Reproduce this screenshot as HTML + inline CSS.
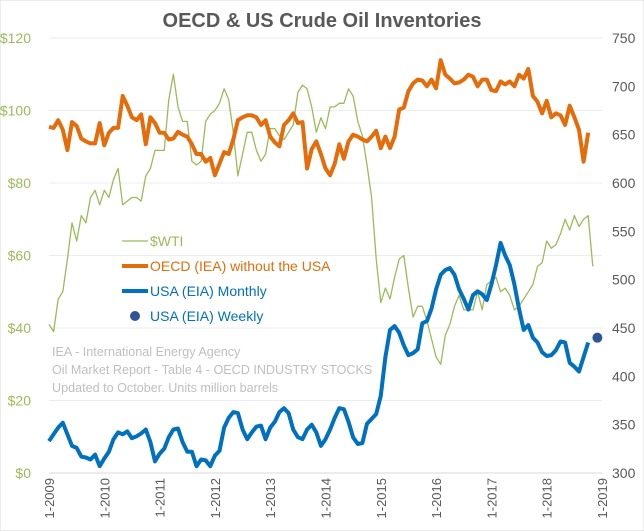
<!DOCTYPE html>
<html><head><meta charset="utf-8"><style>
body{margin:0;background:#fff;}
svg{display:block;font-family:"Liberation Sans",sans-serif;}
</style></head><body>
<svg id="c" width="644" height="531">
<rect x="0" y="0" width="644" height="531" fill="#fff" stroke="#d9d9d9"/>
<text x="322" y="27" text-anchor="middle" font-size="20" font-weight="bold" fill="#595959">OECD &amp; US Crude Oil Inventories</text>
<g id="grid"></g><g id="axes"></g><g id="series"></g>
<g>
<line x1="122" y1="241" x2="148" y2="241" stroke="#9bbb59" stroke-width="1.3"/>
<text x="150" y="246" font-size="14" fill="#9bbb59">$WTI</text>
<line x1="122" y1="266" x2="148" y2="266" stroke="#e46c0a" stroke-width="4"/>
<text x="150" y="271" font-size="14" fill="#e46c0a">OECD (IEA) without the USA</text>
<line x1="122" y1="291" x2="148" y2="291" stroke="#0070c0" stroke-width="4"/>
<text x="150" y="296" font-size="14" fill="#0070c0">USA (EIA) Monthly</text>
<circle cx="135" cy="316" r="5" fill="#2f5597"/>
<text x="150" y="321" font-size="14" fill="#0070c0">USA (EIA) Weekly</text>
</g>
<g font-size="12.6" fill="#bfbfbf">
<text x="52" y="356">IEA - International Energy Agency</text>
<text x="52" y="374">Oil Market Report - Table 4 - OECD INDUSTRY STOCKS</text>
<text x="52" y="392">Updated to October. Units million barrels</text>
</g>
</svg>
<script>
const leftTicks=["$0","$20","$40","$60","$80","$100","$120"];
const leftTickValues=[0,20,40,60,80,100,120];
const rightTickValues=[300,350,400,450,500,550,600,650,700,750];
const xTickLabels=["1-2009","1-2010","1-2011","1-2012","1-2013","1-2014","1-2015","1-2016","1-2017","1-2018","1-2019"];
const wti=[41,39,48,50,59,69,64,71,69,76,78,74,
78,76,81,84,74,75,76,76,75,82,84,89,
89,89,103,110,101,97,97,86,85,86,97,99,
100,102,106,103,94,82,88,94,94,89,86,88,
95,95,93,92,94,96,105,107,106,101,94,98,
95,101,101,102,102,106,104,97,93,85,76,59,
47,51,48,54,59,60,51,43,46,46,42,37,
32,30,38,41,46,49,45,45,45,50,45,52,
53,54,50,51,49,45,46,48,50,52,57,58,
64,62,63,66,70,67,71,68,70,71,57];
const oecd=[658,657,665,655,634,663,659,646,643,641,641,662,
639,652,657,657,690,680,668,665,671,640,668,662,
652,652,645,646,653,650,648,640,630,630,622,626,
608,620,632,630,645,665,668,670,670,668,660,665,
648,642,638,660,665,672,662,663,615,635,643,630,
615,608,620,640,625,643,650,648,645,643,648,654,
636,648,636,648,676,678,695,703,707,706,700,707,
698,727,712,708,703,704,707,712,710,700,707,707,
696,695,705,702,705,700,712,708,718,690,684,672,
685,668,672,670,660,680,668,655,622,652];
const usa=[333,340,347,352,340,328,326,317,316,314,319,307,
315,322,335,342,340,343,336,338,341,345,332,312,
320,325,337,345,346,332,322,322,307,314,313,307,
318,323,347,357,363,362,345,335,342,348,349,335,
347,353,363,367,362,345,337,335,345,350,342,328,
335,345,357,367,366,353,337,330,331,351,356,361,
380,420,448,452,445,432,422,424,428,455,457,470,
490,505,510,512,505,490,480,469,484,488,485,479,
495,515,538,525,515,495,470,448,453,440,435,425,
421,422,427,436,435,414,410,405,420,435];
const weeklyMonth=[119];
const weeklyValue=[440];

const NS="http://www.w3.org/2000/svg";
const X0=49,X1=602,YB=473,YT=38;
const xs=m=>X0+(X1-X0)*m/120;
const yl=v=>YB-(YB-YT)*v/120;
const yr=v=>YB-(YB-YT)*(v-300)/450;
function mk(tag,attrs,parent){const e=document.createElementNS(NS,tag);for(const k in attrs)e.setAttribute(k,attrs[k]);parent.appendChild(e);return e;}
const grid=document.getElementById('grid'),axes=document.getElementById('axes'),ser=document.getElementById('series');
leftTickValues.forEach((v,i)=>{
 const g=mk('line',{x1:X0,x2:X1,y1:yl(v),y2:yl(v),stroke:v===0?'#d9d9d9':'#ececec','stroke-width':1},grid);
 
 
 const t=mk('text',{x:31,y:yl(v)+5,'text-anchor':'end','font-size':14,fill:'#9bbb59'},axes);
 t.textContent=leftTicks[i];
 
 
});
rightTickValues.forEach(v=>{
 const t=mk('text',{x:612,y:yr(v)+5,'font-size':14,fill:'#595959'},axes);
 t.textContent=String(v);
 
 
});
xTickLabels.forEach((s,i)=>{
 const x=xs(i*12);
 const t=mk('text',{x:0,y:0,'text-anchor':'end','font-size':13,fill:'#595959',transform:`translate(${x+5},${YB+5}) rotate(-90)`},axes);
 t.textContent=s;
 
 
});
function line(arr,yf,color,w,name){
 const d=arr.map((v,i)=>(i?'L':'M')+xs(i).toFixed(1)+','+yf(v).toFixed(1)).join('');
 const p=mk('path',{d:d,fill:'none',stroke:color,'stroke-width':w,'stroke-linejoin':'round'},ser);
 
 
}
line(wti,yl,'#9bbb59',1.3,'wti-line');
line(oecd,yr,'#e46c0a',4,'oecd-line');
line(usa,yr,'#0070c0',4,'usa-monthly-line');
weeklyMonth.forEach((m,i)=>{
 const c=mk('circle',{cx:xs(m),cy:yr(weeklyValue[i]),r:5,fill:'#2f5597'},ser);
 
 
});
</script>
</body></html>
